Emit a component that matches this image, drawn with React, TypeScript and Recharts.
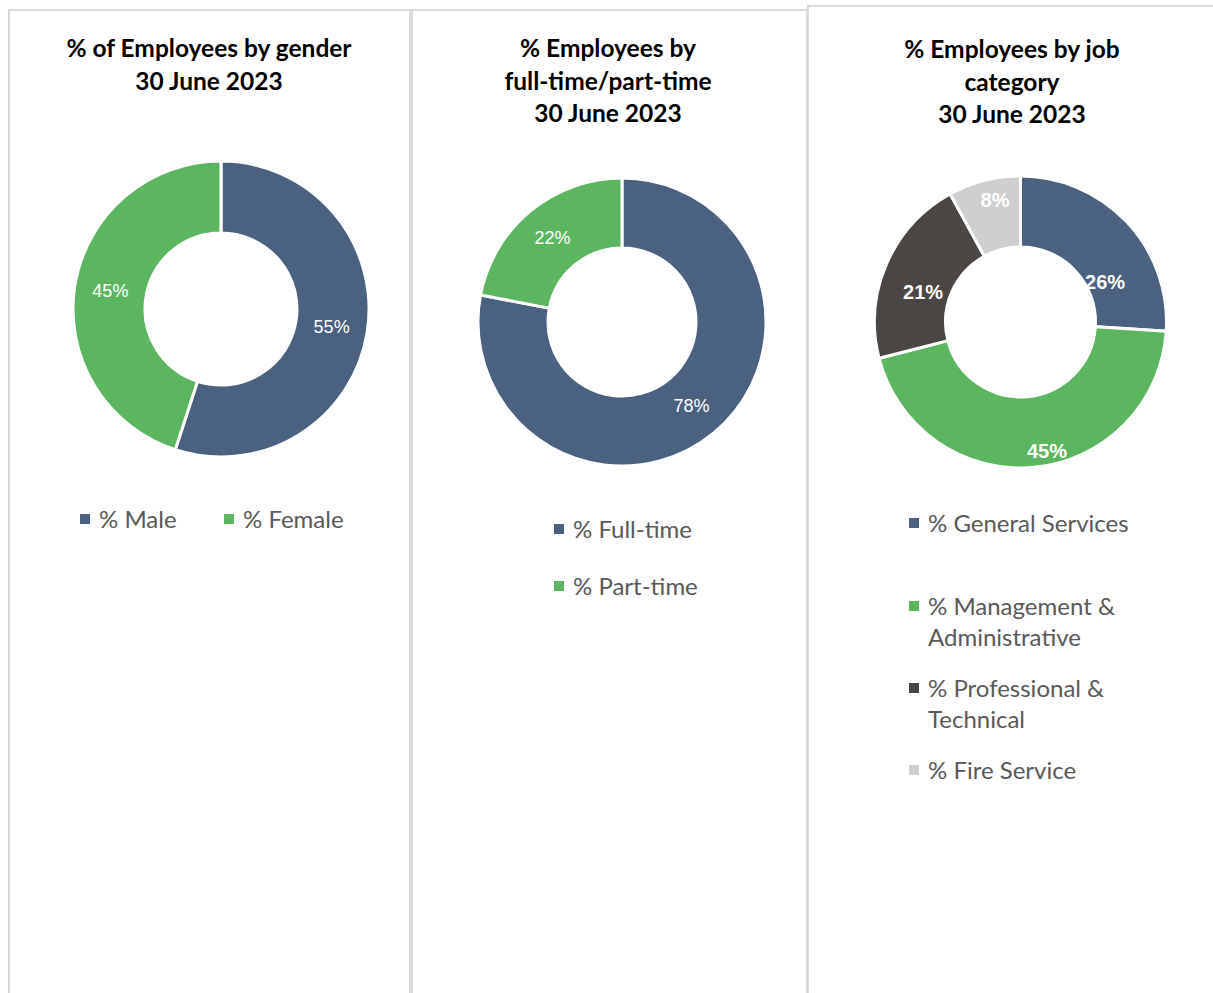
import { PieChart, Pie, Cell } from 'recharts';

// Gender split
const GENDER_LABELS = ['% Male', '% Female'];
const GENDER_VALUES = [55, 45];

// Full-time / part-time split
const TIME_LABELS = ['% Full-time', '% Part-time'];
const TIME_VALUES = [78, 22];

// Job category split
const JOB_LABELS = ['% General Services', '% Management & Administrative', '% Professional & Technical', '% Fire Service'];
const JOB_VALUES = [26, 45, 21, 8];

const COLORS = ['#4a6180', '#5cb660', '#4a4643', '#d0cfcf'];

const TEXT_FONT = 'Lato, "Open Sans", sans-serif';
const LABEL_FONT = '"Liberation Sans", Arial, sans-serif';
const BORDER = '2px solid #d9d9d9';
const RADIAN = Math.PI / 180;

// the job chart labels were dragged around a bit in the original
const JOB_LABEL_NUDGE = [
  [4, 36],
  [16, 19],
  [4, 14],
  [2, -15],
];

const makeLabel = (bold: boolean, size: number, nudge?: number[][]) => (props: any) => {
  const { cx, cy, midAngle, innerRadius, outerRadius, value, index } = props;
  const r = (innerRadius + outerRadius) / 2;
  const n = nudge ? nudge[index] : [0, 0];
  const x = cx + r * Math.cos(-midAngle * RADIAN) + n[0];
  const y = cy + r * Math.sin(-midAngle * RADIAN) + n[1];
  return (
    <text
      x={x}
      y={y}
      fill="#ffffff"
      textAnchor="middle"
      dominantBaseline="central"
      fontFamily={LABEL_FONT}
      fontSize={size}
      fontWeight={bold ? 700 : 400}
    >
      {value}%
    </text>
  );
};

const toRows = (labels: string[], values: number[]) => labels.map((name, i) => ({ name, value: values[i] }));

const Title = ({ lines, top, center }: { lines: string[]; top: number; center: number }) => (
  <div
    style={{
      position: 'absolute',
      top,
      left: center - 200,
      width: 400,
      textAlign: 'center',
      fontFamily: TEXT_FONT,
      fontWeight: 700,
      fontSize: 24.5,
      lineHeight: '32.5px',
      color: '#000',
    }}
  >
    {lines.map((l, i) => (
      <div key={i}>{l}</div>
    ))}
  </div>
);

const LegendItem = ({ x, y, color, lines }: { x: number; y: number; color: string; lines: string[] }) => (
  <div style={{ position: 'absolute', left: x, top: y, fontFamily: TEXT_FONT, fontSize: 24, color: '#595959', lineHeight: '31px' }}>
    <div style={{ position: 'absolute', left: 0, top: 11, width: 10, height: 10, background: color }} />
    <div style={{ marginLeft: 19, whiteSpace: 'nowrap' }}>
      {lines.map((l, i) => (
        <div key={i}>{l}</div>
      ))}
    </div>
  </div>
);

const Donut = ({
  left,
  width,
  cx,
  cy,
  inner,
  outer,
  rows,
  label,
}: {
  left: number;
  width: number;
  cx: number;
  cy: number;
  inner: number;
  outer: number;
  rows: { name: string; value: number }[];
  label: (p: any) => any;
}) => (
  <div style={{ position: 'absolute', left, top: 0 }}>
    <PieChart width={width} height={500} margin={{ top: 0, right: 0, bottom: 0, left: 0 }}>
      <Pie
        data={rows}
        dataKey="value"
        nameKey="name"
        cx={cx}
        cy={cy}
        innerRadius={inner}
        outerRadius={outer}
        startAngle={90}
        endAngle={-270}
        stroke="#ffffff"
        strokeWidth={3}
        labelLine={false}
        label={label}
        isAnimationActive={false}
      >
        {rows.map((_, i) => (
          <Cell key={i} fill={COLORS[i]} />
        ))}
      </Pie>
    </PieChart>
  </div>
);

export default function App() {
  return (
    <div style={{ position: 'absolute', left: 0, top: 0, width: 1213, height: 993, background: '#fff', overflow: 'hidden' }}>
      {/* panel frames */}
      <div style={{ position: 'absolute', left: 8, top: 9, width: 399, height: 1000, borderLeft: BORDER, borderTop: BORDER, borderRight: BORDER }} />
      <div style={{ position: 'absolute', left: 411, top: 9, width: 393, height: 1000, borderLeft: BORDER, borderTop: BORDER, borderRight: BORDER }} />
      <div style={{ position: 'absolute', left: 807, top: 5, width: 420, height: 1000, borderLeft: BORDER, borderTop: BORDER }} />

      <Title lines={['% of Employees by gender', '30 June 2023']} top={32} center={209} />
      <Title lines={['% Employees by', 'full-time/part-time', '30 June 2023']} top={32} center={608} />
      <Title lines={['% Employees by job', 'category', '30 June 2023']} top={33} center={1012} />

      <Donut left={8} width={401} cx={213} cy={309} inner={76} outer={148} rows={toRows(GENDER_LABELS, GENDER_VALUES)} label={makeLabel(false, 18)} />
      <Donut left={412} width={394} cx={210} cy={322} inner={74} outer={144} rows={toRows(TIME_LABELS, TIME_VALUES)} label={makeLabel(false, 18)} />
      <Donut left={808} width={405} cx={212.5} cy={322} inner={75} outer={146} rows={toRows(JOB_LABELS, JOB_VALUES)} label={makeLabel(true, 20, JOB_LABEL_NUDGE)} />

      {/* legends */}
      <LegendItem x={80} y={503} color={COLORS[0]} lines={[GENDER_LABELS[0]]} />
      <LegendItem x={224} y={503} color={COLORS[1]} lines={[GENDER_LABELS[1]]} />

      <LegendItem x={554} y={513} color={COLORS[0]} lines={[TIME_LABELS[0]]} />
      <LegendItem x={554} y={570} color={COLORS[1]} lines={[TIME_LABELS[1]]} />

      <LegendItem x={909} y={507} color={COLORS[0]} lines={[JOB_LABELS[0]]} />
      <LegendItem x={909} y={590} color={COLORS[1]} lines={['% Management &', 'Administrative']} />
      <LegendItem x={909} y={672} color={COLORS[2]} lines={['% Professional &', 'Technical']} />
      <LegendItem x={909} y={754} color={COLORS[3]} lines={[JOB_LABELS[3]]} />
    </div>
  );
}
